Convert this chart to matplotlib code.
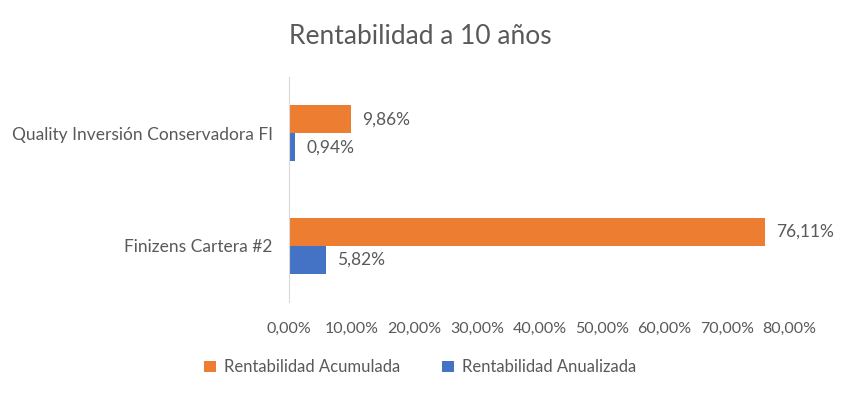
import matplotlib.pyplot as plt
import numpy as np

plt.rcParams['font.family'] = ['Lato', 'DejaVu Sans']

categories = ["Finizens Cartera #2", "Quality Inversión Conservadora FI"]
acumulada = [76.11, 9.86]
anualizada = [5.82, 0.94]
xticks = [0, 10, 20, 30, 40, 50, 60, 70, 80]

ORANGE = "#ED7D31"
BLUE = "#4472C4"
GRAY = "#595959"


def fmt(v):
    return f"{v:.2f}%".replace(".", ",")


fig = plt.figure(figsize=(8.41, 3.97), dpi=100)
ax = fig.add_axes([0.344, 0.239, 0.595, 0.567])

y = np.arange(len(categories))
h = 0.25
r1 = ax.barh(y + h / 2, acumulada, h, color=ORANGE, label="Rentabilidad Acumulada")
r2 = ax.barh(y - h / 2, anualizada, h, color=BLUE, label="Rentabilidad Anualizada")
ax.bar_label(r1, labels=[fmt(v) for v in acumulada], padding=8, color=GRAY, fontsize=12.5)
ax.bar_label(r2, labels=[fmt(v) for v in anualizada], padding=8, color=GRAY, fontsize=12.5)

ax.set_xlim(0, 80)
ax.set_ylim(-0.5, 1.5)
ax.set_xticks(xticks, [fmt(v) for v in xticks])
ax.set_yticks(y, categories)
ax.tick_params(length=0, labelcolor=GRAY, labelsize=12)
ax.tick_params(axis='x', labelsize=11.5, pad=14)
ax.tick_params(axis='y', labelsize=12.5, pad=12)
for s in ["top", "right", "bottom"]:
    ax.spines[s].set_visible(False)
ax.spines["left"].set_color("#D9D9D9")

fig.suptitle("Rentabilidad a 10 años", x=0.5, y=0.94, fontsize=19, color=GRAY)
fig.legend(handles=[r1, r2], loc="center", bbox_to_anchor=(0.5, 0.075), ncol=2,
           frameon=False, fontsize=12, labelcolor=GRAY, handlelength=0.7,
           handleheight=0.7, columnspacing=2.5, handletextpad=0.5)

plt.savefig("out.png")
